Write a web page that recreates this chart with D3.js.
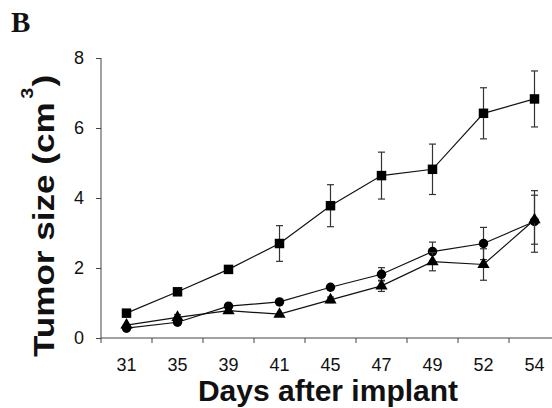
<!DOCTYPE html>
<html>
<head>
<meta charset="utf-8">
<script src="https://cdn.jsdelivr.net/npm/d3@7"></script>
<style>
  body { margin: 0; background: #fff; }
  svg text { font-family: Arial, "Liberation Sans", sans-serif; }
</style>
</head>
<body>
<div id="chart"></div>
<script>
// days after implant (categorical axis)
var days = ["31", "35", "39", "41", "45", "47", "49", "52", "54"];

// tumor size means and errors (cm^3)
var squareVals = [0.71, 1.32, 1.96, 2.70, 3.78, 4.64, 4.82, 6.42, 6.83];
var squareErr  = [0.00, 0.00, 0.00, 0.51, 0.60, 0.67, 0.72, 0.73, 0.80];
var circleVals = [0.28, 0.45, 0.91, 1.03, 1.45, 1.82, 2.47, 2.70, 3.33];
var circleErr  = [0.00, 0.00, 0.00, 0.00, 0.00, 0.19, 0.27, 0.46, 0.88];
var triVals    = [0.37, 0.59, 0.78, 0.68, 1.09, 1.49, 2.18, 2.10, 3.38];
var triErr     = [0.00, 0.08, 0.00, 0.00, 0.08, 0.16, 0.26, 0.45, 0.70];

var yTicks = [0, 2, 4, 6, 8];

var W = 552, H = 408;
var svg = d3.select("#chart").append("svg")
    .attr("width", W).attr("height", H);

var x = d3.scaleBand().domain(days).range([101, 560]).paddingInner(0).paddingOuter(0);
var y = d3.scaleLinear().domain([0, 8]).range([338, 58]);

var ink = "#111";

// panel letter
svg.append("text")
    .attr("x", 11).attr("y", 32)
    .style("font-family", "'Liberation Serif', 'Times New Roman', serif")
    .style("font-weight", "bold").style("font-size", "29px")
    .attr("fill", ink)
    .text("B");

// y axis
var yAxis = svg.append("g")
    .attr("transform", "translate(101,0)")
    .call(d3.axisLeft(y).tickValues(yTicks).tickSize(5).tickPadding(12));
yAxis.select(".domain").attr("d", "M0," + y(8) + "V" + (y(0) + 5)).attr("stroke", "#444");
yAxis.selectAll(".tick line").attr("stroke", "#444");
yAxis.selectAll("text").style("font-size", "18px").attr("fill", ink);

// x axis: labels centred in bands, ticks at band boundaries
var xAxis = svg.append("g")
    .attr("transform", "translate(0," + y(0) + ")")
    .call(d3.axisBottom(x).tickSize(0).tickPadding(20));
xAxis.select(".domain").attr("d", "M101,0H" + W).attr("stroke", "#444");
xAxis.selectAll("text").style("font-size", "18px").attr("fill", ink);
xAxis.selectAll(".bound")
    .data(days.slice(1))
    .enter().append("line")
    .attr("class", "bound")
    .attr("x1", function(d) { return x(d); })
    .attr("x2", function(d) { return x(d); })
    .attr("y1", 0).attr("y2", 5)
    .attr("stroke", "#444");

// axis titles
svg.append("text")
    .attr("x", 328).attr("y", 401)
    .attr("text-anchor", "middle")
    .style("font-weight", "bold").style("font-size", "30px")
    .attr("fill", ink)
    .text("Days after implant");

var yt = svg.append("text")
    .attr("transform", "translate(54,357) rotate(-90) scale(1.17,1)")
    .attr("text-anchor", "start")
    .style("font-weight", "bold").style("font-size", "30px")
    .attr("fill", ink);
yt.append("tspan").text("Tumor size (cm");
yt.append("tspan").attr("dx", 3).attr("dy", -21).style("font-size", "17px").text("3");
yt.append("tspan").attr("dx", 1).attr("dy", 21).text(")");

function cx(i) { return x(days[i]) + x.bandwidth() / 2; }

function drawSeries(vals, errs, shape) {
    var g = svg.append("g");
    var pts = vals.map(function(v, i) { return { i: i, v: v, e: errs[i] }; });

    // error bars
    var eb = g.selectAll(".err").data(pts.filter(function(p) { return p.e > 0; }))
        .enter().append("g").attr("class", "err");
    eb.append("line")
        .attr("x1", function(p) { return cx(p.i); })
        .attr("x2", function(p) { return cx(p.i); })
        .attr("y1", function(p) { return y(p.v + p.e); })
        .attr("y2", function(p) { return y(p.v - p.e); })
        .attr("stroke", "#333").attr("stroke-width", 1.2);
    [1, -1].forEach(function(s) {
        eb.append("line")
            .attr("x1", function(p) { return cx(p.i) - 3.5; })
            .attr("x2", function(p) { return cx(p.i) + 3.5; })
            .attr("y1", function(p) { return y(p.v + s * p.e); })
            .attr("y2", function(p) { return y(p.v + s * p.e); })
            .attr("stroke", "#333").attr("stroke-width", 1.2);
    });

    // connecting line
    g.append("path")
        .datum(pts)
        .attr("fill", "none").attr("stroke", ink).attr("stroke-width", 1.2)
        .attr("d", d3.line().x(function(p) { return cx(p.i); }).y(function(p) { return y(p.v); }));

    // markers
    g.selectAll(".mk").data(pts).enter().append("path")
        .attr("class", "mk")
        .attr("transform", function(p) { return "translate(" + cx(p.i) + "," + y(p.v) + ")"; })
        .attr("d", d3.symbol().type(shape.type).size(shape.size))
        .attr("fill", "#000");
}

drawSeries(squareVals, squareErr, { type: d3.symbolSquare, size: 90 });
drawSeries(circleVals, circleErr, { type: d3.symbolCircle, size: 70 });
drawSeries(triVals, triErr, { type: d3.symbolTriangle, size: 65 });
</script>
</body>
</html>
